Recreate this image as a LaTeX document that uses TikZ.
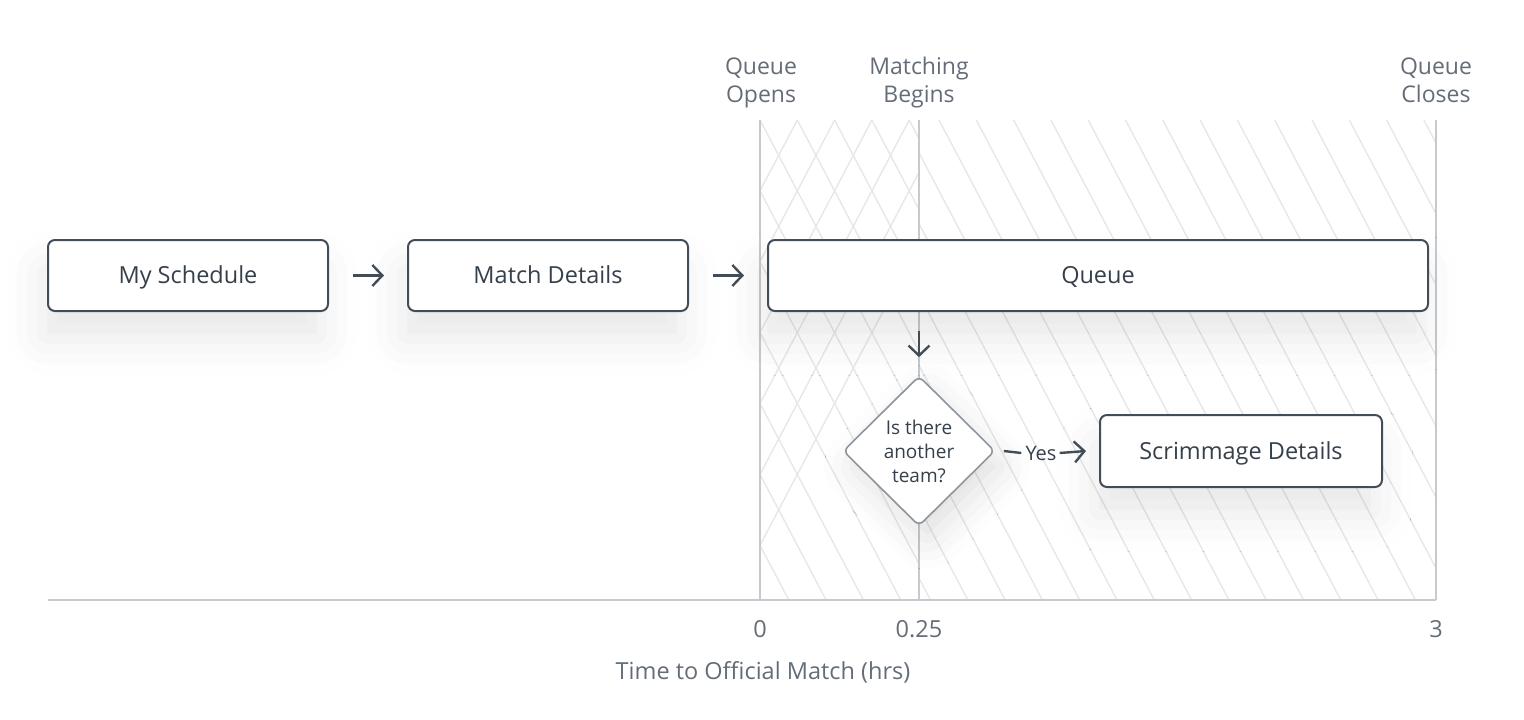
\documentclass[tikz,border=0pt]{standalone}
\usepackage{fontspec}
\setmainfont{Open Sans}
\usetikzlibrary{shapes.geometric,arrows.meta,shadows.blur,calc}
\definecolor{boxline}{HTML}{434D58}
\definecolor{boxtext}{HTML}{36404B}
\definecolor{labelgray}{HTML}{646D77}
\definecolor{gridline}{HTML}{C6CACE}
\definecolor{hatchc}{HTML}{E7E7E7}
\definecolor{dialine}{HTML}{8E959C}
\tikzset{
  box/.style={draw=boxline, line width=2pt, rounded corners=7pt, fill=white,
    inner sep=0pt, minimum height=71pt, text=boxtext, font=\fontsize{23.5}{27}\selectfont,
    text height=16.8pt, text depth=0pt,
    blur shadow={shadow xshift=-6pt, shadow yshift=-28pt, shadow blur radius=36pt, shadow opacity=9}},
  flow/.style={draw=boxline, line width=2.4pt, -{Straight Barb[length=10pt,width=21pt,line width=2.4pt]}},
  hatch/.style={draw=hatchc, line width=1.4pt},
  grid/.style={draw=gridline, line width=2pt},
  toplabel/.style={text=labelgray, align=center, font=\fontsize{23}{28}\selectfont, text depth=0pt},
  ticklabel/.style={text=labelgray, font=\fontsize{23.5}{27}\selectfont},
  decision/.style={diamond, draw=dialine, line width=1.6pt, rounded corners=6pt, fill=white,
    minimum width=152pt, minimum height=150pt, inner sep=0pt, align=center, text=boxtext,
    font=\fontsize{19}{24}\selectfont,
    blur shadow={shadow xshift=8pt, shadow yshift=-16pt, shadow blur radius=30pt, shadow opacity=12}},
}
\begin{document}
\begin{tikzpicture}[x=1pt,y=-1pt]
\useasboundingbox (0,0) rectangle (1524,720);
% hatching
\begin{scope}
  \clip (760,120) rectangle (919,600);
  \foreach \k in {-8,...,6} {
    \draw[hatch] (760+37.3*\k,120) -- ++(252.6,480);
    \draw[hatch] (760+37.3*\k,120) -- ++(-252.6,480);
  }
\end{scope}
\begin{scope}
  \clip (919,120) rectangle (1436,600);
  \foreach \k in {-8,...,14} {
    \draw[hatch] (939+37.3*\k,120) -- ++(252.6,480);
  }
\end{scope}
% grid
\coordinate (t0) at (760,120);
\coordinate (b0) at (760,600);
\coordinate (t1) at (919,120);
\coordinate (b1) at (919,600);
\coordinate (t3) at (1436,120);
\coordinate (b3) at (1436,600);
\coordinate (axl) at (48,600);
\draw[grid] (t0) -- (b0);
\draw[grid] (t1) -- (b1);
\draw[grid] (t3) -- (b3);
\draw[grid] (axl) -- (b3);
% labels
\node[toplabel] (lo) at (761,80) {Queue\\Opens};
\node[toplabel] (lm) at (919,80) {Matching\\Begins};
\node[toplabel] (lc) at (1436,80) {Queue\\Closes};
\node[ticklabel] (x0) at (760,629) {0};
\node[ticklabel] (x1) at (919,629) {0.25};
\node[ticklabel] (x3) at (1436,629) {3};
\node[ticklabel] (xt) at (763,672) {Time to Official Match (hrs)};
% boxes
\node[box, minimum width=280pt] (ms) at (188,275.5) {My Schedule};
\node[box, minimum width=280pt] (md) at (548,275.5) {Match Details};
\node[box, minimum width=660pt] (q) at (1098,275.5) {Queue};
\node[box, minimum width=282pt, minimum height=72pt] (sd) at (1241,451) {Scrimmage Details};
\node[decision] (dia) at (919,451) {Is there\\another\\team?};
% connectors
\draw[flow] ([xshift=24pt]ms.east) -- ([xshift=-23pt]md.west);
\draw[flow] ([xshift=24pt]md.east) -- ([xshift=-23pt]q.west);
\draw[flow] ($(q.south -| dia.north)+(0,19)$) -- ($(dia.north)+(0,-18)$);
\node[text=boxtext, font=\fontsize{20}{22}\selectfont, inner sep=0pt] (yes) at (1041,453) {Yes};
\draw[boxline, line width=2.4pt] ([xshift=8pt]dia.east) -- ([xshift=-4pt]yes.west);
\draw[flow] ([xshift=3pt]yes.east) -- ([xshift=-13pt]sd.west);
\end{tikzpicture}
\end{document}
